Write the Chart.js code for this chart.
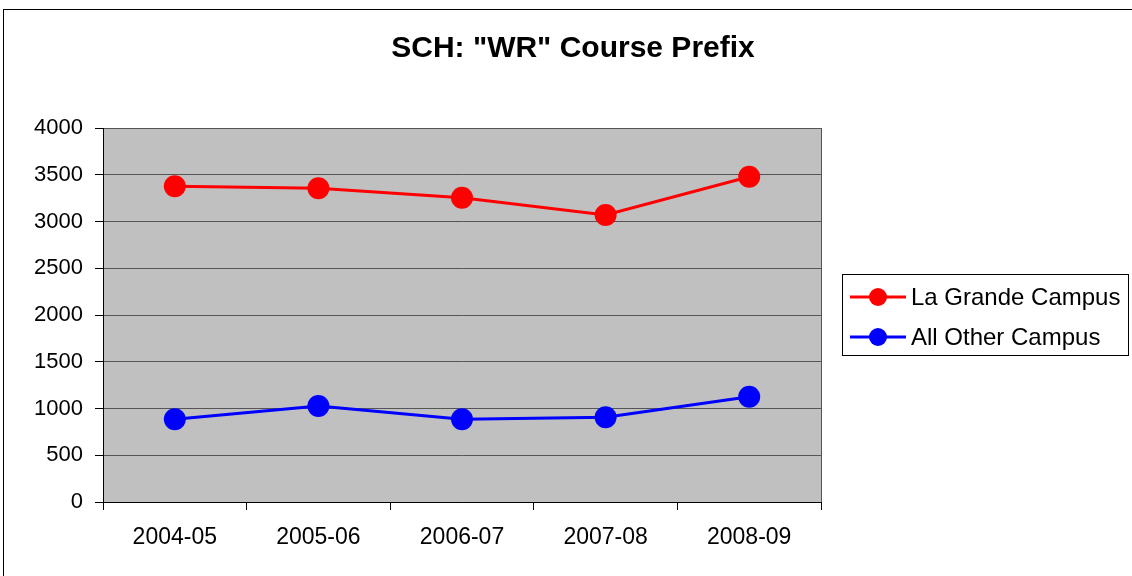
<!DOCTYPE html>
<html>
<head>
<meta charset="utf-8">
<script src="https://cdn.jsdelivr.net/npm/chart.js@4"></script>
<style>
  html, body { margin: 0; padding: 0; background: #fff; }
  #wrap { width: 1132px; height: 576px; }
</style>
</head>
<body>
<div id="wrap"><canvas id="chart1" width="1132" height="576"></canvas></div>
<script>
let years = ["2004-05", "2005-06", "2006-07", "2007-08", "2008-09"];
let laGrande = [3376, 3355, 3255, 3070, 3479];
let allOther = [885, 1027, 885, 906, 1126];
let seriesNames = ["La Grande Campus", "All Other Campus"];
let seriesColors = ["#FF0000", "#0000FF"];
let chartTitle = 'SCH: "WR" Course Prefix';

const FONT = "'Liberation Sans', Arial, sans-serif";

// grey plot background, outer frame and the title (centred on the whole frame)
const frame = {
    id: "frame",
    beforeDraw(chart) {
        const ctx = chart.ctx;
        const a = chart.chartArea;
        ctx.save();
        ctx.strokeStyle = "#000";
        ctx.lineWidth = 1;
        ctx.strokeRect(3.5, 9.5, 1200, 700);
        ctx.fillStyle = "#C0C0C0";
        ctx.fillRect(a.left, a.top, a.right - a.left, a.bottom - a.top);
        ctx.strokeStyle = "#555";
        ctx.strokeRect(a.left + 0.5, a.top + 0.5, a.right - a.left, a.bottom - a.top);
        ctx.fillStyle = "#000";
        ctx.font = "bold 30px " + FONT;
        ctx.textAlign = "center";
        ctx.textBaseline = "middle";
        ctx.fillText(chartTitle, 573, 49);
        ctx.restore();
    }
};

// legend box like the original: line + dot sample
const boxLegend = {
    id: "boxLegend",
    afterDraw(chart) {
        const ctx = chart.ctx;
        ctx.save();
        ctx.strokeStyle = "#000";
        ctx.lineWidth = 1;
        ctx.strokeRect(842.5, 274.5, 286, 81);
        chart.data.datasets.forEach((ds, i) => {
            const y = 297 + i * 40;
            ctx.strokeStyle = ds.borderColor;
            ctx.lineWidth = 3;
            ctx.beginPath();
            ctx.moveTo(850, y);
            ctx.lineTo(906, y);
            ctx.stroke();
            ctx.fillStyle = ds.borderColor;
            ctx.beginPath();
            ctx.arc(878, y, 9, 0, Math.PI * 2);
            ctx.fill();
            ctx.fillStyle = "#000";
            ctx.font = "24px " + FONT;
            ctx.textAlign = "left";
            ctx.textBaseline = "middle";
            ctx.fillText(ds.label, 911, y + 1);
        });
        ctx.restore();
    }
};

new Chart("chart1", {
    type: "line",
    data: {
        labels: years,
        datasets: [{
            label: seriesNames[0],
            data: laGrande,
            borderColor: seriesColors[0],
            backgroundColor: seriesColors[0],
            borderWidth: 3,
            pointRadius: 11,
            pointHoverRadius: 11,
            pointBorderWidth: 0
        }, {
            label: seriesNames[1],
            data: allOther,
            borderColor: seriesColors[1],
            backgroundColor: seriesColors[1],
            borderWidth: 3,
            pointRadius: 11,
            pointHoverRadius: 11,
            pointBorderWidth: 0
        }]
    },
    options: {
        responsive: false,
        animation: false,
        layout: { padding: { left: 0, right: 311, top: 128, bottom: 0 } },
        plugins: {
            legend: { display: false },
            tooltip: { enabled: false },
            title: { display: false }
        },
        scales: {
            x: {
                offset: true,
                grid: {
                    offset: true,
                    drawOnChartArea: false,
                    drawTicks: true,
                    tickLength: 8,
                    color: "#000"
                },
                border: { color: "#000", width: 1 },
                ticks: {
                    color: "#000",
                    padding: 14,
                    font: { family: FONT, size: 23 }
                },
                afterFit(s) { s.height = 74; }
            },
            y: {
                min: 0,
                max: 4000,
                ticks: {
                    stepSize: 500,
                    color: "#000",
                    padding: 12,
                    font: { family: FONT, size: 22 },
                    callback: (v) => String(v)
                },
                grid: {
                    color: "#555",
                    tickColor: "#000",
                    tickLength: 8
                },
                border: { color: "#000", width: 1 },
                afterFit(s) { s.width = 103; }
            }
        }
    },
    plugins: [frame, boxLegend]
});
</script>
</body>
</html>
